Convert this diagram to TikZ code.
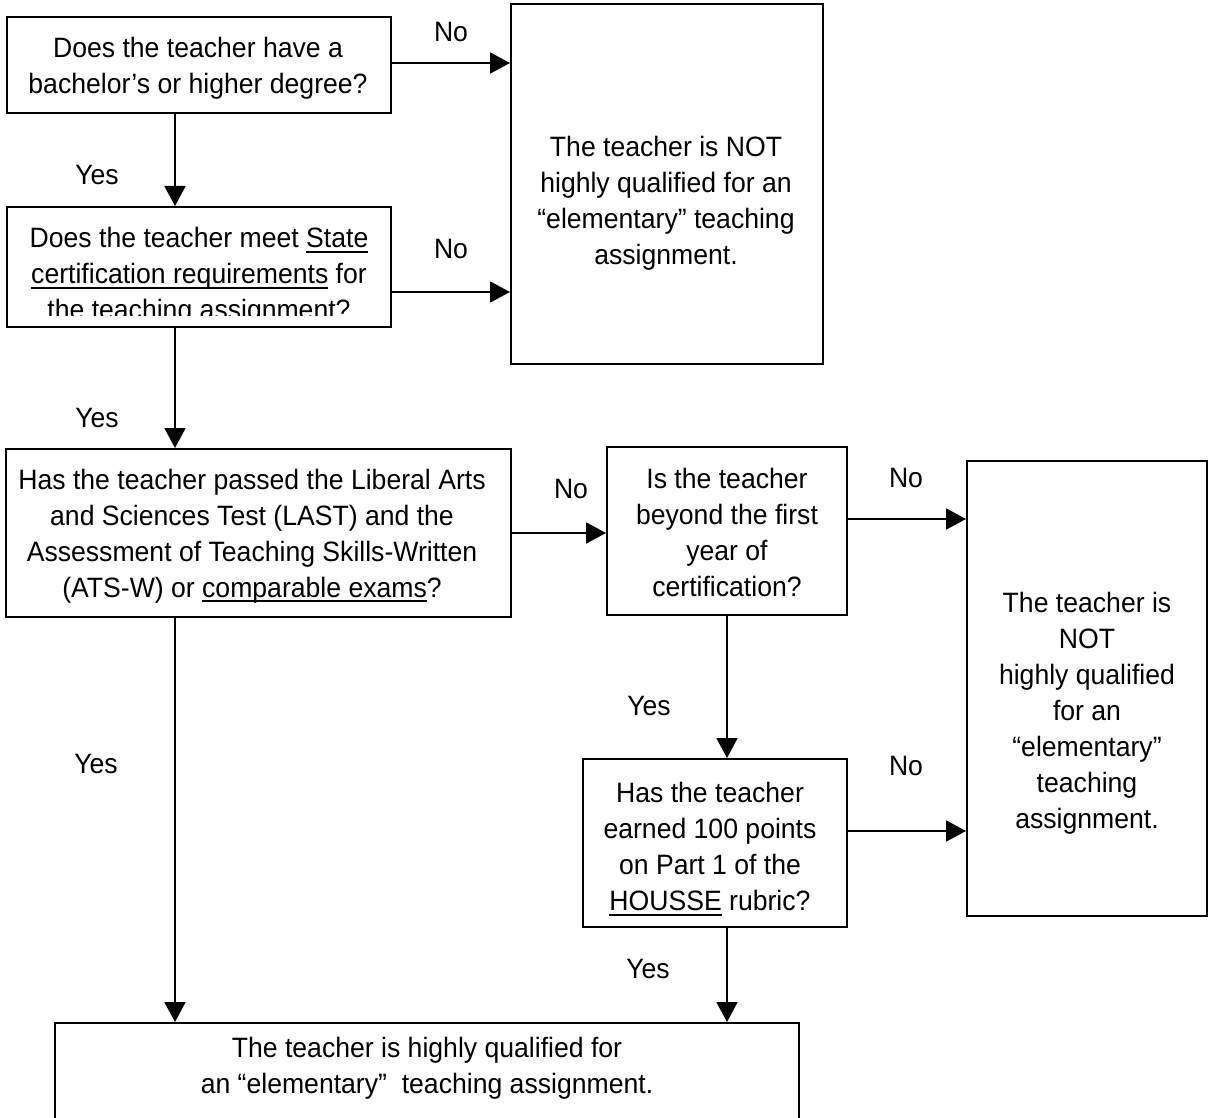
\documentclass[tikz,border=0pt]{standalone}
\usepackage{fontspec}
\setmainfont{Liberation Sans}[FakeStretch=0.95]
\usetikzlibrary{arrows.meta}

\newcommand{\uln}[1]{\setbox0\hbox{#1}\rlap{\rule[-2.4pt]{\wd0}{1pt}}\box0\relax}

\begin{document}
\begin{tikzpicture}[
  x=0.5pt,
  y=-0.5pt,
  font=\fontsize{14pt}{18pt}\selectfont,
  box/.style={
    draw=black,
    line width=1pt,
    inner sep=0pt
  },
  txt/.style={
    align=center,
    inner sep=0pt
  },
  flow/.style={
    draw=black,
    line width=0.9pt,
    -{Triangle[length=10pt,width=10.5pt]}
  },
  lbl/.style={
    anchor=base,
    inner sep=0pt
  }
]

\useasboundingbox (0,0) rectangle (1209,1118);

\coordinate (colL) at (175,0);
\coordinate (colR) at (727,0);

\node[box, minimum width=192pt, minimum height=48pt] (q1) at (199,65) {};
\node[box, minimum width=192pt, minimum height=60pt] (q2) at (199,267) {};
\node[box, minimum width=252.5pt, minimum height=84pt] (q3) at (258.5,533) {};
\node[box, minimum width=120pt, minimum height=84pt] (q4) at (727,531) {};
\node[box, minimum width=132pt, minimum height=84pt] (q5) at (715,843) {};
\node[box, minimum width=156pt, minimum height=180pt] (notA) at (667,184) {};
\node[box, minimum width=120pt, minimum height=227.5pt] (notB) at (1087,688.5) {};
\node[box, minimum width=372pt, minimum height=58.5pt] (done) at (427,1081.5) {};

\node[txt] (q1text) at (198,68.5) {Does the teacher have a\\bachelor’s or higher degree?};
\begin{scope}
  \clip (7,207) rectangle (391,315);
  \node[txt] (q2text) at (199,276.5) {Does the teacher meet \uln{State}\\\uln{certification requirements} for\\the teaching assignment?};
\end{scope}
\node[txt] (q3text) at (252,536) {Has the teacher passed the Liberal Arts\\and Sciences Test (LAST) and the\\Assessment of Teaching Skills-Written\\(ATS-W) or \uln{comparable exams}?};
\node[txt] (q4text) at (727,532) {Is the teacher\\beyond the first\\year of\\certification?};
\node[txt] (q5text) at (710,849) {Has the teacher\\earned 100 points\\on Part 1 of the\\\uln{HOUSSE} rubric?};
\node[txt] (notAtext) at (666,203) {The teacher is NOT\\highly qualified for an\\“elementary” teaching\\assignment.};
\node[txt] (notBtext) at (1087,713) {The teacher is\\NOT\\highly qualified\\for an\\“elementary”\\teaching\\assignment.};
\node[txt] (donetext) at (427,1068) {The teacher is highly qualified for\\an “elementary”\ \ teaching assignment.};

\draw[flow] ([yshift=1pt]q1.east) coordinate (o1) -- (o1 -| notA.west);
\draw[flow] ([yshift=-12.5pt]q2.east) coordinate (o2) -- (o2 -| notA.west);
\draw[flow] (q3.east) -- (q3.east -| q4.west);
\draw[flow] ([yshift=6pt]q4.east) coordinate (o4) -- (o4 -| notB.west);
\draw[flow] ([yshift=6pt]q5.east) coordinate (o5) -- (o5 -| notB.west);

\draw[flow] (q1.south -| colL) -- (q2.north -| colL);
\draw[flow] (q2.south -| colL) -- (q3.north -| colL);
\draw[flow] (q3.south -| colL) -- (done.north -| colL);
\draw[flow] (q4.south -| colR) -- (q5.north -| colR);
\draw[flow] (q5.south -| colR) -- (done.north -| colR);

\foreach \name/\word/\x/\y in {no1/No/451/42, yes1/Yes/97/185, no2/No/451/258,
    yes2/Yes/97/427, no3/No/571/498, no4/No/906/487, yes3/Yes/649/715,
    yes4/Yes/96/773, no5/No/906/775, yes5/Yes/648/978} {
  \node[lbl] (\name) at (\x,\y) {\word};
}

\end{tikzpicture}
\end{document}
